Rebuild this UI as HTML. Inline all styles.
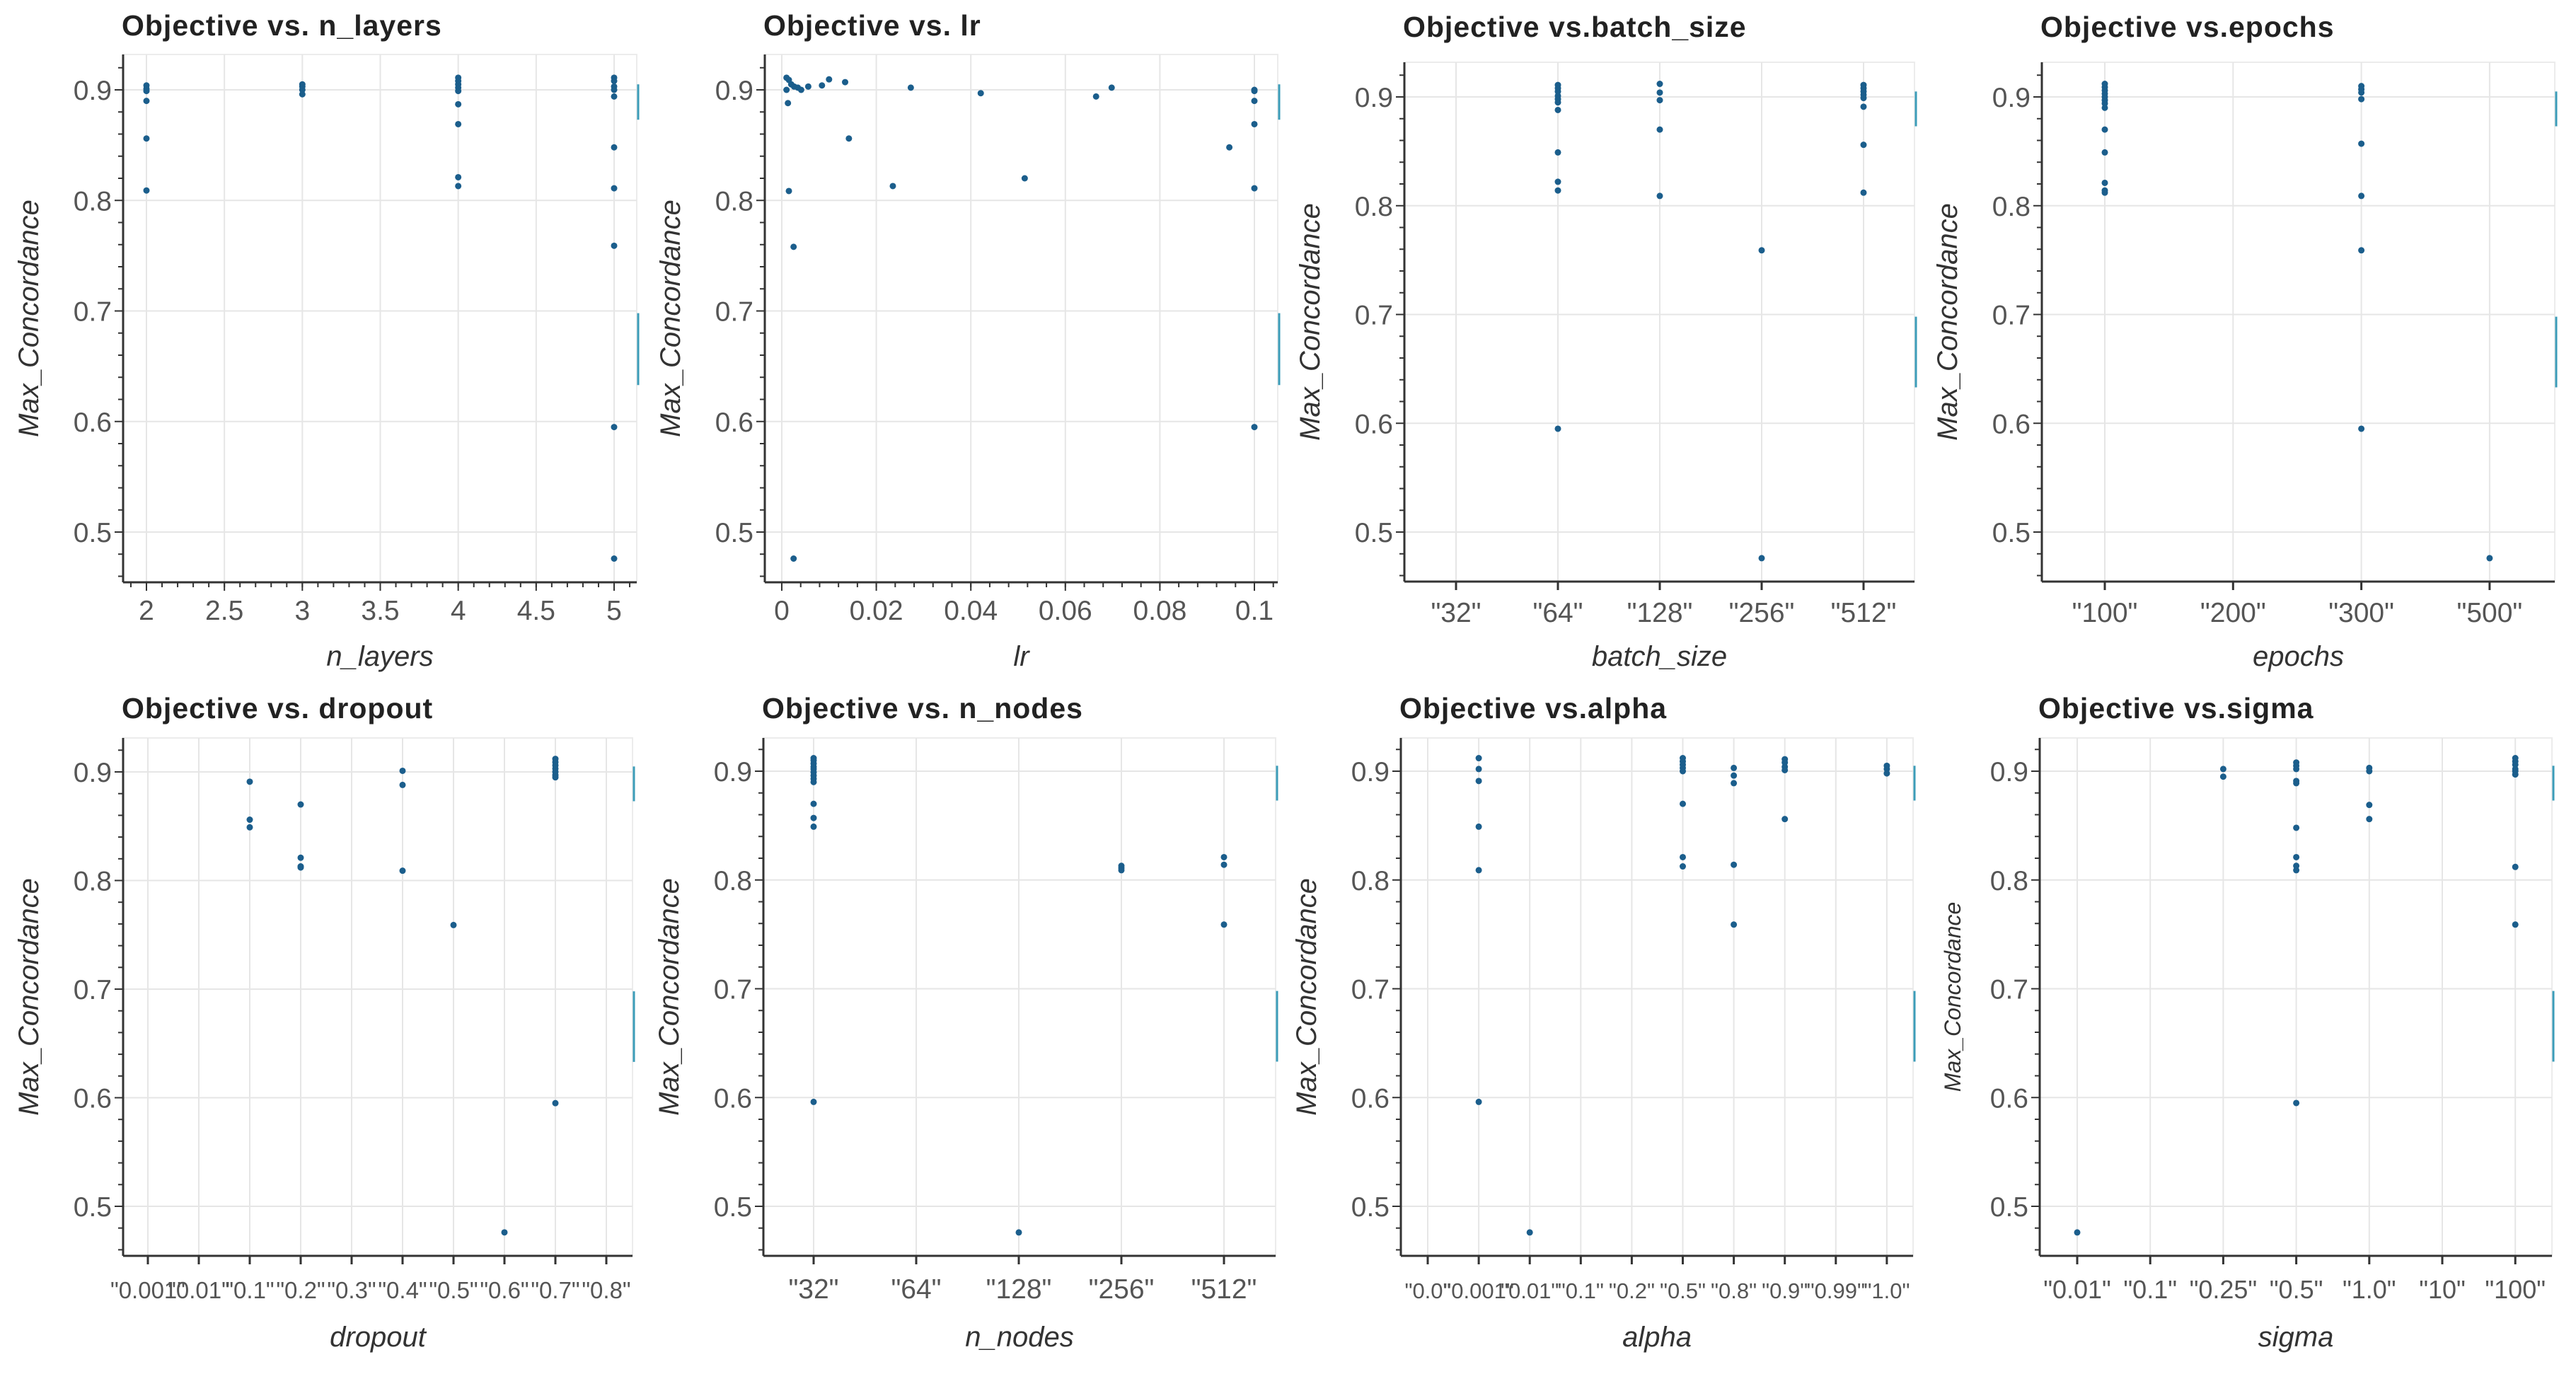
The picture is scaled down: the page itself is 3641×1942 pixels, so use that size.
<!DOCTYPE html>
<html><head><meta charset="utf-8"><style>
html,body{margin:0;padding:0;background:#fff;}
svg{display:block;font-family:"Liberation Sans",Arial,sans-serif;}
</style></head><body>
<svg id="root" width="3641" height="1942" viewBox="0 0 3641 1942">
<rect x="0" y="0" width="3641" height="1942" fill="#fff"/>
</svg>
<script>
// ---- data ----
const nLayersX = [2,2,2,2,2,2, 3,3,3,3, 4,4,4,4,4,4,4,4,4, 5,5,5,5,5,5,5,5,5,5];
const nLayersY = [0.904,0.901,0.899,0.890,0.856,0.809, 0.905,0.903,0.900,0.896, 0.911,0.908,0.905,0.902,0.899,0.887,0.869,0.821,0.813, 0.911,0.908,0.903,0.900,0.894,0.848,0.811,0.759,0.595,0.476];
const lrX = [0.001,0.0015,0.001,0.002,0.0013,0.0026,0.0034,0.0041,0.0056,0.0085,0.010,0.0134,0.0142,0.0015,0.0025,0.0025,0.0235,0.0273,0.0421,0.0514,0.0665,0.0698,0.0947,0.1,0.1,0.1,0.1,0.1,0.1];
const lrY = [0.911,0.909,0.900,0.905,0.888,0.903,0.902,0.900,0.903,0.904,0.9095,0.907,0.856,0.8085,0.758,0.476,0.813,0.902,0.897,0.820,0.894,0.902,0.848,0.900,0.899,0.890,0.869,0.811,0.595];
const batchCats = ['"32"','"64"','"128"','"256"','"512"'];
const batchX = [1,1,1,1,1,1,1,1,1,1,1, 2,2,2,2,2, 3,3, 4,4,4,4,4,4,4,4];
const batchY = [0.911,0.908,0.905,0.901,0.898,0.895,0.888,0.849,0.822,0.814,0.595, 0.912,0.904,0.897,0.870,0.809, 0.759,0.476, 0.911,0.908,0.905,0.902,0.899,0.891,0.856,0.812];
const epochCats = ['"100"','"200"','"300"','"500"'];
const epochX = [0,0,0,0,0,0,0,0,0,0,0,0,0, 2,2,2,2,2,2,2,2, 3];
const epochY = [0.912,0.909,0.906,0.903,0.900,0.897,0.894,0.890,0.870,0.849,0.821,0.814,0.812, 0.910,0.907,0.904,0.898,0.857,0.809,0.759,0.595, 0.476];
const dropCats = ['"0.001"','"0.01"','"0.1"','"0.2"','"0.3"','"0.4"','"0.5"','"0.6"','"0.7"','"0.8"'];
const dropX = [2,2,2, 3,3,3,3, 5,5,5, 6, 7, 8,8,8,8,8,8,8,8];
const dropY = [0.891,0.856,0.849, 0.870,0.821,0.813,0.812, 0.901,0.888,0.809, 0.759, 0.476, 0.912,0.909,0.906,0.903,0.900,0.897,0.895,0.595];
const nodeCats = ['"32"','"64"','"128"','"256"','"512"'];
const nodeX = [0,0,0,0,0,0,0,0,0,0,0,0,0, 2, 3,3,3, 4,4,4];
const nodeY = [0.912,0.910,0.907,0.904,0.902,0.899,0.896,0.893,0.890,0.870,0.857,0.849,0.596, 0.476, 0.813,0.811,0.809, 0.821,0.814,0.759];
const alphaCats = ['"0.0"','"0.001"','"0.01"','"0.1"','"0.2"','"0.5"','"0.8"','"0.9"','"0.99"','"1.0"'];
const alphaX = [1,1,1,1,1,1, 2, 5,5,5,5,5,5,5,5, 6,6,6,6,6, 7,7,7,7,7, 9,9,9];
const alphaY = [0.912,0.902,0.891,0.849,0.809,0.596, 0.476, 0.912,0.909,0.906,0.903,0.900,0.870,0.821,0.8125, 0.903,0.896,0.889,0.814,0.759, 0.911,0.908,0.904,0.901,0.856, 0.905,0.902,0.898];
const sigmaCats = ['"0.01"','"0.1"','"0.25"','"0.5"','"1.0"','"10"','"100"'];
const sigmaX = [0, 2,2, 3,3,3,3,3,3,3,3,3,3, 4,4,4,4, 6,6,6,6,6,6,6,6];
const sigmaY = [0.476, 0.902,0.895, 0.908,0.905,0.902,0.891,0.889,0.848,0.821,0.813,0.809,0.595, 0.903,0.900,0.869,0.856, 0.912,0.909,0.906,0.902,0.900,0.897,0.812,0.759];
const yTicks = [0.5,0.6,0.7,0.8,0.9];
const nLayersTicks = [2,2.5,3,3.5,4,4.5,5];
const lrTicks = [0,0.02,0.04,0.06,0.08,0.1];

const NS='http://www.w3.org/2000/svg';
const root=document.getElementById('root');
function mk(tag,attrs,parent,text){const e=document.createElementNS(NS,tag);for(const k in attrs)e.setAttribute(k,attrs[k]);if(text!==undefined)e.textContent=text;(parent||root).appendChild(e);return e;}

const panels=[
 {name:'n-layers',title:'Objective vs. n_layers',xl:'n_layers',L:174,R:900,T:77,B:823,y9:127,y5:752,type:'num',x0:2,px0:207,x1:5,px1:868,ticks:nLayersTicks,minor:0.1,fmt:v=>String(v),xs:nLayersX,ys:nLayersY,tY:50,tickY:876,labY:941},
 {name:'lr',title:'Objective vs. lr',xl:'lr',L:1081,R:1806,T:77,B:823,y9:127,y5:752,type:'num',x0:0,px0:1105,x1:0.1,px1:1773,ticks:lrTicks,minor:0.004,fmt:v=>String(v),xs:lrX,ys:lrY,tY:50,tickY:876,labY:941},
 {name:'batch-size',title:'Objective vs.batch_size',xl:'batch_size',L:1985,R:2706,T:88,B:822,y9:137,y5:752,type:'cat',cats:batchCats,c0:2058,step:144,xs:batchX,ys:batchY,tY:52,tickY:879,labY:941,fs:39},
 {name:'epochs',title:'Objective vs.epochs',xl:'epochs',L:2886,R:3611,T:88,B:822,y9:137,y5:752,type:'cat',cats:epochCats,c0:2975,step:181.3,xs:epochX,ys:epochY,tY:52,tickY:879,labY:941,fs:39},
 {name:'dropout',title:'Objective vs. dropout',xl:'dropout',L:174,R:894,T:1043,B:1775,y9:1091,y5:1705,type:'cat',cats:dropCats,c0:209,step:72,xs:dropX,ys:dropY,tY:1015,tickY:1835,labY:1903,fs:33},
 {name:'n-nodes',title:'Objective vs. n_nodes',xl:'n_nodes',L:1079,R:1803,T:1043,B:1775,y9:1090,y5:1705,type:'cat',cats:nodeCats,c0:1150,step:145,xs:nodeX,ys:nodeY,tY:1015,tickY:1835,labY:1903,fs:39},
 {name:'alpha',title:'Objective vs.alpha',xl:'alpha',L:1980,R:2704,T:1043,B:1775,y9:1090,y5:1705,type:'cat',cats:alphaCats,c0:2018,step:72.1,xs:alphaX,ys:alphaY,tY:1015,tickY:1835,labY:1903,fs:31},
 {name:'sigma',title:'Objective vs.sigma',xl:'sigma',L:2883,R:3607,T:1043,B:1775,y9:1090,y5:1705,type:'cat',cats:sigmaCats,c0:2936,step:103.2,xs:sigmaX,ys:sigmaY,tY:1015,tickY:1835,labY:1903,fs:36,ylfs:32}
];

panels.forEach(p=>{
 const g=mk('g',{});
 
 
 const ys=v=>p.y5+(v-0.5)*(p.y9-p.y5)/0.4;
 const xs=p.type==='num'?(v=>p.px0+(v-p.x0)*(p.px1-p.px0)/(p.x1-p.x0)):(i=>p.c0+i*p.step);
 const fr=mk('rect',{x:p.L,y:p.T,width:p.R-p.L,height:p.B-p.T,fill:'none',stroke:'#ececec','stroke-width':2},g);
 
 
 yTicks.forEach(v=>{
  const y=ys(v);
  const gl=mk('line',{x1:p.L,x2:p.R,y1:y,y2:y,stroke:'#e6e6e6','stroke-width':2},g);
  
  
  const t=mk('text',{x:p.L-16,y:y+14,'text-anchor':'end','font-size':39,fill:'#555'},g,v.toFixed(1));
  
  
 });
 for(let k=0;;k++){const v=0.44+k*0.02; if(v>0.95)break; const y=ys(v); if(y<p.T||y>p.B)continue;
  const major=Math.abs(v*10-Math.round(v*10))<1e-6;
  const tk=mk('line',{x1:p.L-(major?12:7),x2:p.L,y1:y,y2:y,stroke:'#333','stroke-width':2},g);
  
  
 }
 if(p.type==='num'){
  p.ticks.forEach(v=>{
   const x=xs(v);
   const gl=mk('line',{x1:x,x2:x,y1:p.T,y2:p.B,stroke:'#e6e6e6','stroke-width':2},g);
   
   
   const tk=mk('line',{x1:x,x2:x,y1:p.B,y2:p.B+12,stroke:'#333','stroke-width':2},g);
   
   
   const t=mk('text',{x:x,y:p.tickY,'text-anchor':'middle','font-size':39,fill:'#555'},g,p.fmt(v));
   
   
  });
  const lo=p.x0-(p.px0-p.L)/(p.px1-p.px0)*(p.x1-p.x0), hi=p.x1+(p.R-p.px1)/(p.px1-p.px0)*(p.x1-p.x0);
  for(let v=Math.ceil(lo/p.minor)*p.minor; v<=hi; v+=p.minor){
   const x=xs(v);
   const mt=mk('line',{x1:x,x2:x,y1:p.B,y2:p.B+7,stroke:'#333','stroke-width':2},g);
   
   
  }
 } else {
  p.cats.forEach((c,i)=>{
   const x=xs(i);
   const gl=mk('line',{x1:x,x2:x,y1:p.T,y2:p.B,stroke:'#e6e6e6','stroke-width':2},g);
   
   
   const tk=mk('line',{x1:x,x2:x,y1:p.B,y2:p.B+12,stroke:'#333','stroke-width':3},g);
   
   
   const t=mk('text',{x:x,y:p.tickY,'text-anchor':'middle','font-size':p.fs,fill:'#555'},g,c);
   
   
  });
 }
 const ya=mk('line',{x1:p.L,x2:p.L,y1:p.T,y2:p.B,stroke:'#333','stroke-width':3},g);
 
 
 const xa=mk('line',{x1:p.L,x2:p.R,y1:p.B,y2:p.B,stroke:'#333','stroke-width':3},g);
 
 
 [[0.905,0.873],[0.698,0.633]].forEach(b=>{
  const sb=mk('line',{x1:p.R+2,x2:p.R+2,y1:ys(b[0]),y2:ys(b[1]),stroke:'#3b9cb8','stroke-width':3},g);
  
  
 });
 p.xs.forEach((xv,i)=>{
  const c=mk('circle',{cx:xs(xv),cy:ys(p.ys[i]),r:4.5,fill:'#1b5e8c'},g);
  
  
 });
 const tt=mk('text',{x:p.L-2,y:p.tY,'font-size':41,'font-weight':'bold',fill:'#222','letter-spacing':1},g,p.title);
 
 
 const xl=mk('text',{x:(p.L+p.R)/2,y:p.labY,'text-anchor':'middle','font-size':40,'font-style':'italic',fill:'#333'},g,p.xl);
 
 
 const cy=(p.T+p.B)/2, cx=p.L-(p.ylfs?112:120);
 const yl=mk('text',{x:cx,y:cy,'text-anchor':'middle','font-size':p.ylfs||40,'font-style':'italic',fill:'#333',transform:'rotate(-90 '+cx+' '+cy+')'},g,'Max_Concordance');
 
 
});
</script>
</body></html>
